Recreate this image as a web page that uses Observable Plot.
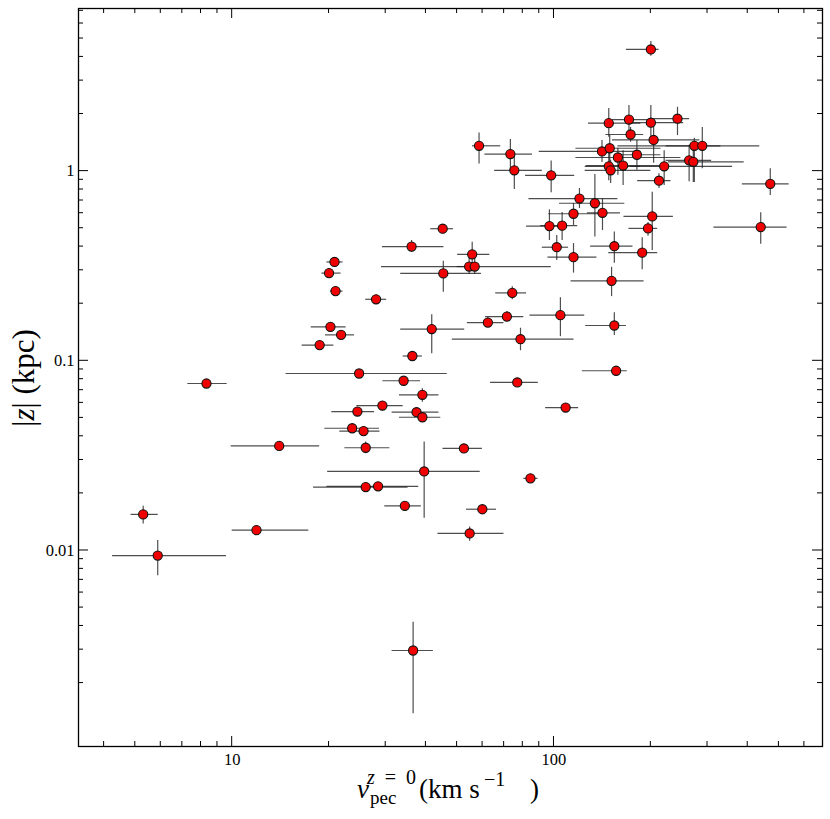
<!DOCTYPE html>
<html>
<head>
<meta charset="utf-8">
<script src="https://cdn.jsdelivr.net/npm/d3@7"></script>
<script src="https://cdn.jsdelivr.net/npm/@observablehq/plot@0.6"></script>
<style>
  html, body { margin: 0; padding: 0; background: #fff; }
  svg { display: block; }
</style>
</head>
<body>
<div id="chart"></div>
<script>
// Peculiar velocity at z=0 (km/s) with lower/upper error bounds
const vpec   = [200,148,171,200,242,173,204,273,289,141, 149,158,181,148,150,164,220,263,271,212, 98,58.5,73.2,75.3,470,120,134,115,141.5,202, 96.8,106,196,439,45.1,36.1,55.7,54.5,56.7,45.3, 102,115,154,188,151,20.8,20.0,20.95,28.0,74.2, 71.4,62.3,104.7,154,41.7,78.7,20.2,21.8,18.7,36.3, 156,24.8,34.1,76.9,8.32,39.0,29.3,24.5,37.4,39.0, 108.7,23.6,25.6,26.0,52.5,14.0,39.5,84.5,26.0,28.4, 34.4,59.9,5.29,11.9,54.7,5.87,36.5];
const vpecLo = [168,128,152,171,204,145,152,223,158,90, 117,117,158,125,125,126,173,223,227,182, 81.6,55.8,61,65.4,385,83.6,104,96.3,127,165, 82.2,91,171,314,41.4,29.3,50.2,50,29.1,33.4, 92,95.8,130,148,113,19.7,19.0,20.2,26.0,65.9, 61.3,53.8,84.2,125.5,33.4,48.3,17.6,19.5,16.5,34.0, 122.5,14.7,29.4,63.5,7.28,33.1,24.4,20.4,31.4,33.1, 94.2,19.4,21.6,22.4,45.2,9.93,19.8,80.6,17.9,19.7, 29.8,53.5,4.85,10,43.6,4.25,31.4];
const vpecHi = [212,186,200,253,264,190,284,330,436,186, 215,248,215,186,200,215,359,309,390,231, 116,68.3,85.7,92,538,158,166,141,161,235, 109,118.5,210,530,48.7,45.5,63.2,59,98.1,59.5, 111,136,176,210,190.5,22.1,21.8,22.1,30.2,82.2, 80.6,69.9,124.6,168,52.8,115.4,22.6,24.0,20.7,39.0, 169,46.6,38.5,89.4,9.65,43.9,34.0,27.7,43.9,44.5, 119.3,28.7,28.8,30.9,59.9,18.7,59,89.2,35.2,38.0, 38.7,66.3,5.89,17.3,69.9,9.6,42.2];
// |z| height (kpc) with lower/upper error bounds
const zAbs = [4.38,1.79,1.87,1.80,1.89,1.56,1.46,1.36,1.36,1.27, 1.32,1.18,1.22,1.06,1.01,1.07,1.06,1.14,1.12,0.89, 0.95,1.36,1.23,1.01,0.857,0.717,0.677,0.596,0.603,0.577, 0.513,0.516,0.499,0.507,0.497,0.40,0.364,0.314,0.314,0.289, 0.397,0.352,0.402,0.372,0.264,0.332,0.29,0.233,0.211,0.228, 0.171,0.159,0.174,0.1535,0.147,0.13,0.151,0.137,0.121,0.106, 0.0886,0.0857,0.0785,0.0769,0.0759,0.0662,0.0581,0.054,0.0536,0.0504, 0.0567,0.0441,0.0426,0.0348,0.0345,0.0356,0.0261,0.024,0.0216,0.0218, 0.0172,0.0165,0.0155,0.0128,0.0123,0.0094,0.00297];
const zLo  = [4.03,1.51,1.58,1.45,1.54,1.42,1.10,0.87,1.03,1.11, 1.07,0.95,1.01,0.89,0.86,0.84,0.84,0.88,0.87,0.81, 0.77,1.09,1.01,0.80,0.744,0.635,0.449,0.517,0.486,0.382, 0.431,0.431,0.453,0.411,0.475,0.373,0.307,0.285,0.285,0.23, 0.338,0.29,0.327,0.302,0.218,0.314,0.275,0.221,0.2,0.21, 0.161,0.150,0.134,0.136,0.109,0.113,0.145,0.132,0.117,0.102, 0.085,0.083,0.0755,0.074,0.073,0.0605,0.056,0.052,0.0516,0.0485, 0.0545,0.0425,0.041,0.0324,0.0332,0.0343,0.0148,0.0231,0.0208,0.021, 0.0165,0.0159,0.0138,0.0123,0.0112,0.00736,0.00138];
const zHi  = [4.82,2.14,2.22,2.22,2.17,1.70,1.85,1.49,1.70,1.45, 1.54,1.32,1.45,1.28,1.14,1.28,1.28,1.37,1.32,0.97, 1.13,1.59,1.47,1.23,1.03,0.81,0.96,0.675,0.714,0.774, 0.625,0.605,0.536,0.603,0.523,0.431,0.422,0.346,0.346,0.335, 0.458,0.415,0.477,0.445,0.311,0.35,0.307,0.245,0.222,0.246, 0.182,0.169,0.215,0.179,0.175,0.1485,0.157,0.142,0.126,0.110, 0.092,0.089,0.0815,0.08,0.079,0.0712,0.0605,0.056,0.0556,0.0523, 0.059,0.0458,0.0443,0.0373,0.0358,0.037,0.0373,0.025,0.0224,0.0226, 0.0179,0.0171,0.0171,0.0133,0.0133,0.0113,0.00419];

// Axis ticks
const xMajor = [10, 100];
const xMinor = [4,5,6,7,8,9,20,30,40,50,60,70,80,90,200,300,400,500,600];
const yMajor = [0.01, 0.1, 1];
const yMinor = [0.002,0.003,0.004,0.005,0.006,0.007,0.008,0.009,0.02,0.03,0.04,0.05,0.06,0.07,0.08,0.09,0.2,0.3,0.4,0.5,0.6,0.7,0.8,0.9,2,3,4,5,6,7];
const xDomain = [3.33, 683];
const yDomain = [0.000926, 7.2];

const rows = vpec.map((v, i) => ({v, vlo: vpecLo[i], vhi: vpecHi[i], z: zAbs[i], zlo: zLo[i], zhi: zHi[i]}));

const W = 830, H = 819, ML = 78, MR = 8, MT = 8, MB = 73;
const majorLen = 10, minorLen = 5;
const font = "'Liberation Serif', 'DejaVu Serif', serif";
const barStyle = {stroke: "#222", strokeOpacity: 0.8, strokeWidth: 1.2};

const plot = Plot.plot({
  width: W,
  height: H,
  marginLeft: ML,
  marginRight: MR,
  marginTop: MT,
  marginBottom: MB,
  style: {fontFamily: font, fontSize: "16.5px", color: "#000", background: "#fff", overflow: "visible"},
  x: {type: "log", domain: xDomain, label: null},
  y: {type: "log", domain: yDomain, label: null},
  marks: [
    Plot.ruleY(rows, {y: "z", x1: "vlo", x2: "vhi", ...barStyle}),
    Plot.ruleX(rows, {x: "v", y1: "zlo", y2: "zhi", ...barStyle}),
    Plot.dot(rows, {x: "v", y: "z", r: 4.6, fill: "#f00000", stroke: "#111", strokeWidth: 1.1}),
    Plot.frame({stroke: "#000", strokeWidth: 1.3}),
    Plot.axisX({anchor: "bottom", ticks: xMajor, tickSize: 0, tickPadding: 7, tickFormat: d => String(d), label: null}),
    Plot.axisY({anchor: "left", ticks: yMajor, tickSize: 0, tickPadding: 4, tickFormat: d => String(d), label: null})
  ]
});

document.getElementById("chart").appendChild(plot);

const svg = d3.select(plot);
const sx = plot.scale("x"), sy = plot.scale("y");

// inward ticks on all four sides, placed through Plot's own scales
const tickGroup = svg.append("g").attr("stroke", "#000").attr("stroke-width", 1);
const edgeBottom = H - MB, edgeTop = MT, edgeLeft = ML, edgeRight = W - MR;
function xTicks(values, len) {
  for (const v of values) {
    const px = sx.apply(v);
    tickGroup.append("line").attr("x1", px).attr("x2", px).attr("y1", edgeBottom).attr("y2", edgeBottom - len);
    tickGroup.append("line").attr("x1", px).attr("x2", px).attr("y1", edgeTop).attr("y2", edgeTop + len);
  }
}
function yTicks(values, len) {
  for (const v of values) {
    const py = sy.apply(v);
    tickGroup.append("line").attr("y1", py).attr("y2", py).attr("x1", edgeLeft).attr("x2", edgeLeft + len);
    tickGroup.append("line").attr("y1", py).attr("y2", py).attr("x1", edgeRight).attr("x2", edgeRight - len);
  }
}
xTicks(xMajor, majorLen); xTicks(xMinor, minorLen);
yTicks(yMajor, majorLen); yTicks(yMinor, minorLen);

// x-axis title: v_pec^{z=0} (km s^-1), one text element
const xt = svg.append("text").attr("font-family", font).attr("fill", "#000")
  .attr("text-anchor", "start").attr("font-size", 27);
xt.append("tspan").attr("x", 357).attr("y", 798).attr("font-style", "italic").text("v");
xt.append("tspan").attr("x", 370).attr("y", 804).attr("font-size", 19).text("pec");
xt.append("tspan").attr("x", 367).attr("y", 784).attr("font-size", 20).attr("font-style", "italic").text("z");
xt.append("tspan").attr("font-size", 20).text("\u2002=\u20020");
xt.append("tspan").attr("x", 419).attr("y", 798).text("(km s");
xt.append("tspan").attr("x", 484).attr("y", 786).attr("font-size", 20).text("\u22121");
xt.append("tspan").attr("x", 530).attr("y", 798).text(")");

// y-axis title: |z| (kpc)
const yt = svg.append("text")
  .attr("transform", "translate(34,378) rotate(-90)")
  .attr("text-anchor", "middle")
  .attr("font-family", font)
  .attr("font-size", 31)
  .attr("fill", "#000");
yt.append("tspan").text("|");
yt.append("tspan").attr("font-style", "italic").text("z");
yt.append("tspan").text("| (kpc)");
</script>
</body>
</html>
